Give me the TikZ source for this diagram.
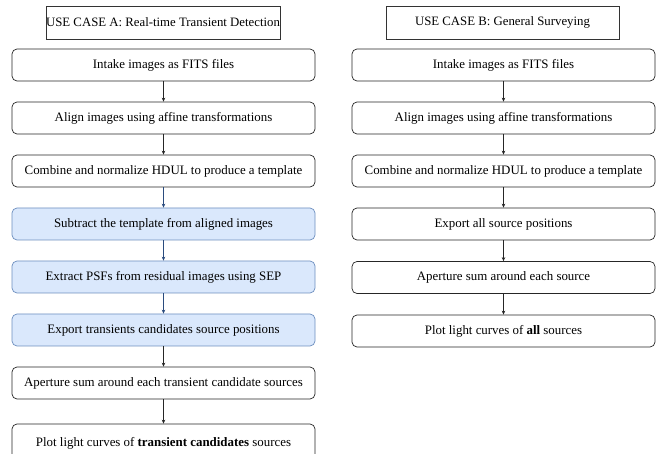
\documentclass[tikz,border=0pt]{standalone}
\usepackage{fontspec}
\setmainfont{Liberation Serif}
\usetikzlibrary{arrows.meta}
\definecolor{bfill}{HTML}{DAE8FC}
\definecolor{bdraw}{HTML}{6C8EBF}
\definecolor{barrow}{HTML}{2B4C7E}
\begin{document}
\begin{tikzpicture}[x=1pt,y=-1pt,
  title/.style={draw=black!80, line width=0.7pt, minimum width=233pt, minimum height=33pt, inner sep=0pt, font=\fontsize{12.8}{15}\selectfont},
  stepbox/.style={draw=black!85, line width=0.7pt, rounded corners=5pt, minimum width=303pt, minimum height=32pt, inner sep=0pt, font=\fontsize{12.9}{15}\selectfont},
  bluebox/.style={stepbox, fill=bfill, draw=bdraw},
  arr/.style={-{Stealth[length=4pt,width=3.5pt]}, line width=0.6pt, black!85},
  barr/.style={arr, barrow}
]
\useasboundingbox (0,0) rectangle (662,454);
\begin{scope}
\clip (0,0) rectangle (662,454);
% Column A
\node[title] (ta) at (163,22.5) {USE CASE A: Real-time Transient Detection};
\node[stepbox] (a1) at (163.5,65) {Intake images as FITS files};
\node[stepbox] (a2) at (163.5,118) {Align images using affine transformations};
\node[stepbox] (a3) at (163.5,171) {Combine and normalize HDUL to produce a template};
\node[bluebox] (a4) at (163.5,224) {Subtract the template from aligned images};
\node[bluebox] (a5) at (163.5,277) {Extract PSFs from residual images using SEP};
\node[bluebox] (a6) at (163.5,330) {Export transients candidates source positions};
\node[stepbox] (a7) at (163.5,383) {Aperture sum around each transient candidate sources};
\node[stepbox, minimum height=40pt, text depth=4pt] (a8) at (163.5,444) {Plot light curves of \textbf{transient candidates} sources};
\draw[arr] (a1) -- (a2);
\draw[arr] (a2) -- (a3);
\draw[barr] (a3) -- (a4);
\draw[barr] (a4) -- (a5);
\draw[barr] (a5) -- (a6);
\draw[arr] (a6) -- (a7);
\draw[arr] (a7) -- (a8);
% Column B
\node[title] (tb) at (502.5,22.5) {USE CASE B: General Surveying};
\node[stepbox] (b1) at (503.5,65) {Intake images as FITS files};
\node[stepbox] (b2) at (503.5,118) {Align images using affine transformations};
\node[stepbox] (b3) at (503.5,171) {Combine and normalize HDUL to produce a template};
\node[stepbox] (b4) at (503.5,224) {Export all source positions};
\node[stepbox] (b5) at (503.5,277.5) {Aperture sum around each source};
\node[stepbox] (b6) at (503.5,331) {Plot light curves of \textbf{all} sources};
\draw[arr] (b1) -- (b2);
\draw[arr] (b2) -- (b3);
\draw[arr] (b3) -- (b4);
\draw[arr] (b4) -- (b5);
\draw[arr] (b5) -- (b6);
\end{scope}
\end{tikzpicture}
\end{document}
